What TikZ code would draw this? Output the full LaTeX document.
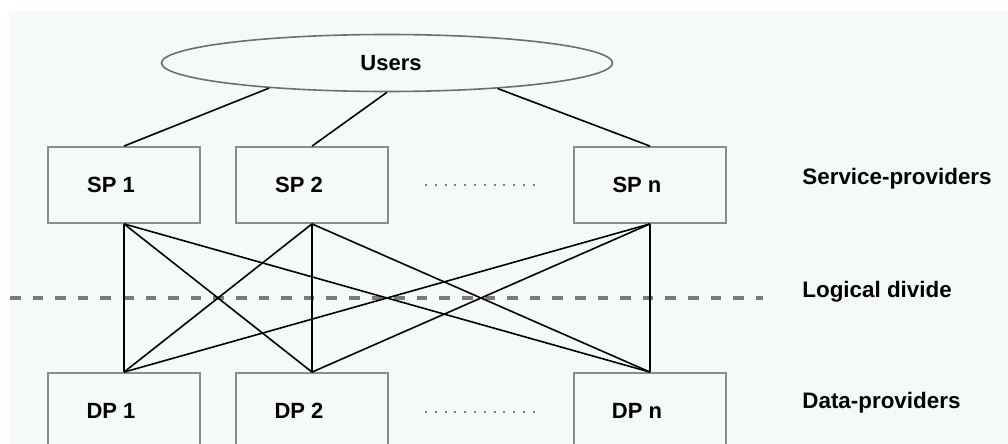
\documentclass[tikz,border=0pt]{standalone}
\usepackage{fontspec}
\setmainfont{Liberation Sans}
\usetikzlibrary{shapes.geometric}
\definecolor{bg}{HTML}{F6F9F9}
\definecolor{boxgray}{HTML}{8C8C8C}
\definecolor{dashgray}{HTML}{7A7A7A}
\definecolor{ellgray}{HTML}{6E6E6E}
\begin{document}
\begin{tikzpicture}[x=0.5pt,y=-0.5pt,
  txt/.style={font=\fontsize{11}{13}\selectfont\bfseries, text=black},
  prov/.style={txt, draw=boxgray, line width=0.9pt, minimum width=76pt, minimum height=38pt, inner sep=0pt,
    execute at begin node=\hspace*{-6.5pt}, execute at end node=\hspace*{6.5pt}},
  cloud/.style={txt, ellipse, draw=ellgray, line width=0.8pt, minimum width=225.5pt, minimum height=28.5pt, inner sep=0pt},
  sidelabel/.style={font=\fontsize{11.2}{13}\selectfont\bfseries, anchor=west, inner sep=0pt},
  link/.style={line width=0.8pt, black},
  divide/.style={dashgray, line width=1.6pt, dash pattern=on 5.3pt off 6pt},
  ellipsis/.style={gray, line width=1pt, dash pattern=on 1pt off 3.9pt}
]
\useasboundingbox (0,0) rectangle (1008,444);
\clip (0,0) rectangle (1008,444);
\fill[white] (0,0) rectangle (1008,444);
\fill[bg] (9,11) rectangle (1008,444);

% logical divide
\coordinate (divL) at (10,298);
\coordinate (divR) at (763,298);
\draw[divide] (divL) -- (divR);

% users
\node[cloud] (users) at (387,63) {\hspace*{4pt}Users};

% service providers
\node[prov] (sp1) at (124,185) {SP 1};
\node[prov] (sp2) at (312,185) {SP 2};
\node[prov] (spn) at (650,185) {SP n};

% data providers
\node[prov] (dp1) at (124,411) {DP 1};
\node[prov] (dp2) at (312,411) {DP 2};
\node[prov] (dpn) at (650,411) {DP n};

% ellipses of dots
\coordinate (dotsA1) at (425,185);
\coordinate (dotsA2) at (535,185);
\coordinate (dotsB1) at (425,412);
\coordinate (dotsB2) at (535,412);
\draw[ellipsis] (dotsA1) -- (dotsA2);
\draw[ellipsis] (dotsB1) -- (dotsB2);

% users to service providers
\draw[link] (users.192) -- (sp1.north);
\draw[link] (users.south) -- (sp2.north);
\draw[link] (users.347) -- (spn.north);

% service providers to data providers
\foreach \s in {sp1,sp2,spn}{
  \foreach \d in {dp1,dp2,dpn}{
    \draw[link] (\s.south) -- (\d.north);
  }
}

% side labels
\node[sidelabel] (lsp) at (802,179) {Service-providers};
\node[sidelabel] (ldiv) at (802,292) {Logical divide};
\node[sidelabel] (ldp) at (802,403) {Data-providers};
\end{tikzpicture}
\end{document}
